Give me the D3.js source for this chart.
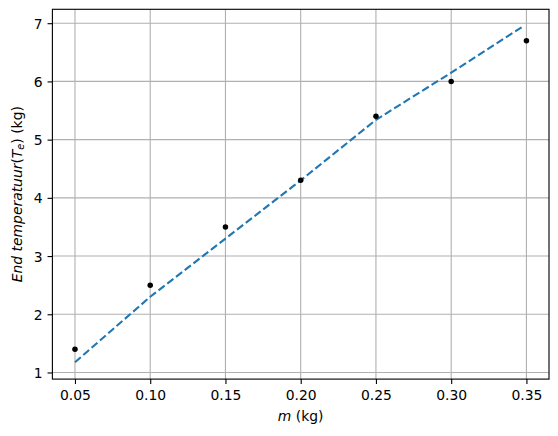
<!DOCTYPE html>
<html>
<head>
<meta charset="utf-8">
<script src="https://cdn.jsdelivr.net/npm/d3@7"></script>
<style>
  html, body { margin: 0; padding: 0; background: #fff; }
  svg { display: block; font-family: "DejaVu Sans", sans-serif; }
</style>
</head>
<body>
<svg id="chart" width="558" height="436"></svg>
<script>
// ---- data ----
const massX = [0.05, 0.10, 0.15, 0.20, 0.25, 0.30, 0.35];
const endTemp = [1.4, 2.5, 3.5, 4.3, 5.4, 6.0, 6.7];
const fitX = [0.05, 0.10, 0.15, 0.20, 0.25, 0.30, 0.348];
const fitY = [1.175, 2.30, 3.30, 4.30, 5.34, 6.15, 6.95];
const xTicks = [0.05, 0.10, 0.15, 0.20, 0.25, 0.30, 0.35];
const yTicks = [1, 2, 3, 4, 5, 6, 7];

(function () {
  // ---- layout ----
  const W = 558, H = 436;
  const mLeft = 52.4, mRight = 549, mTop = 9.3, mBottom = 379.1;
  const fontSize = 13.9;

  function padded(vals) {
    const mn = d3.min(vals), mx = d3.max(vals), r = mx - mn;
    return [mn - 0.05 * r, mx + 0.05 * r];
  }
  const x = d3.scaleLinear().domain(padded(massX.concat(fitX))).range([mLeft, mRight]);
  const y = d3.scaleLinear().domain(padded(endTemp.concat(fitY))).range([mBottom, mTop]);

  const svg = d3.select("#chart");
  svg.append("rect").attr("width", W).attr("height", H).attr("fill", "#fff");

  // grid
  const grid = svg.append("g").attr("stroke", "#b0b0b0").attr("stroke-width", 1.11);
  grid.selectAll("line.gx").data(xTicks).join("line").attr("class", "gx")
    .attr("x1", d => x(d)).attr("x2", d => x(d)).attr("y1", mTop).attr("y2", mBottom);
  grid.selectAll("line.gy").data(yTicks).join("line").attr("class", "gy")
    .attr("y1", d => y(d)).attr("y2", d => y(d)).attr("x1", mLeft).attr("x2", mRight);

  // axes with d3
  const xAxis = svg.append("g").attr("transform", `translate(0,${mBottom})`)
    .call(d3.axisBottom(x).tickValues(xTicks).tickFormat(d3.format(".2f")).tickSizeInner(4.86).tickSizeOuter(0).tickPadding(4.86));
  const yAxis = svg.append("g").attr("transform", `translate(${mLeft},0)`)
    .call(d3.axisLeft(y).tickValues(yTicks).tickFormat(d3.format("d")).tickSizeInner(4.86).tickSizeOuter(0).tickPadding(4.86));
  [xAxis, yAxis].forEach(a => {
    a.select(".domain").remove();
    a.selectAll(".tick line").attr("stroke", "#000").attr("stroke-width", 1.11);
    a.selectAll(".tick text").attr("fill", "#000").attr("font-size", fontSize).attr("font-family", "DejaVu Sans");
  });
  xAxis.selectAll(".tick text").attr("dy", null).attr("y", 20.6);
  yAxis.selectAll(".tick text").attr("dy", null).attr("y", 5.07);

  // fit line
  svg.append("path")
    .datum(fitX.map((d, i) => [d, fitY[i]]))
    .attr("d", d3.line().x(d => x(d[0])).y(d => y(d[1])))
    .attr("fill", "none").attr("stroke", "#1f77b4").attr("stroke-width", 2.08)
    .attr("stroke-dasharray", "7.7,3.33");

  // points
  svg.append("g").selectAll("circle").data(massX).join("circle")
    .attr("cx", d => x(d)).attr("cy", (d, i) => y(endTemp[i]))
    .attr("r", 2.75).attr("fill", "#000");

  // spines
  svg.append("rect").attr("x", mLeft).attr("y", mTop)
    .attr("width", mRight - mLeft).attr("height", mBottom - mTop)
    .attr("fill", "none").attr("stroke", "#000").attr("stroke-width", 1.11);

  // x label
  const xl = svg.append("text").attr("x", (mLeft + mRight) / 2).attr("y", 420.5)
    .attr("text-anchor", "middle").attr("font-size", fontSize).attr("fill", "#000");
  xl.append("tspan").attr("font-style", "italic").text("m");
  xl.append("tspan").text(" (kg)");

  // y label
  const yl = svg.append("text")
    .attr("transform", `translate(21.7,${(mTop + mBottom) / 2}) rotate(-90)`)
    .attr("text-anchor", "middle").attr("font-size", fontSize).attr("fill", "#000");
  yl.append("tspan").attr("font-style", "italic").text("End temperatuur");
  yl.append("tspan").text("(");
  yl.append("tspan").attr("font-style", "italic").text("T");
  yl.append("tspan").attr("font-style", "italic").attr("font-size", fontSize * 0.7).attr("dy", 2.6).text("e");
  yl.append("tspan").attr("dy", -2.6).text(")");
  yl.append("tspan").text(" (kg)");
})();
</script>
</body>
</html>
